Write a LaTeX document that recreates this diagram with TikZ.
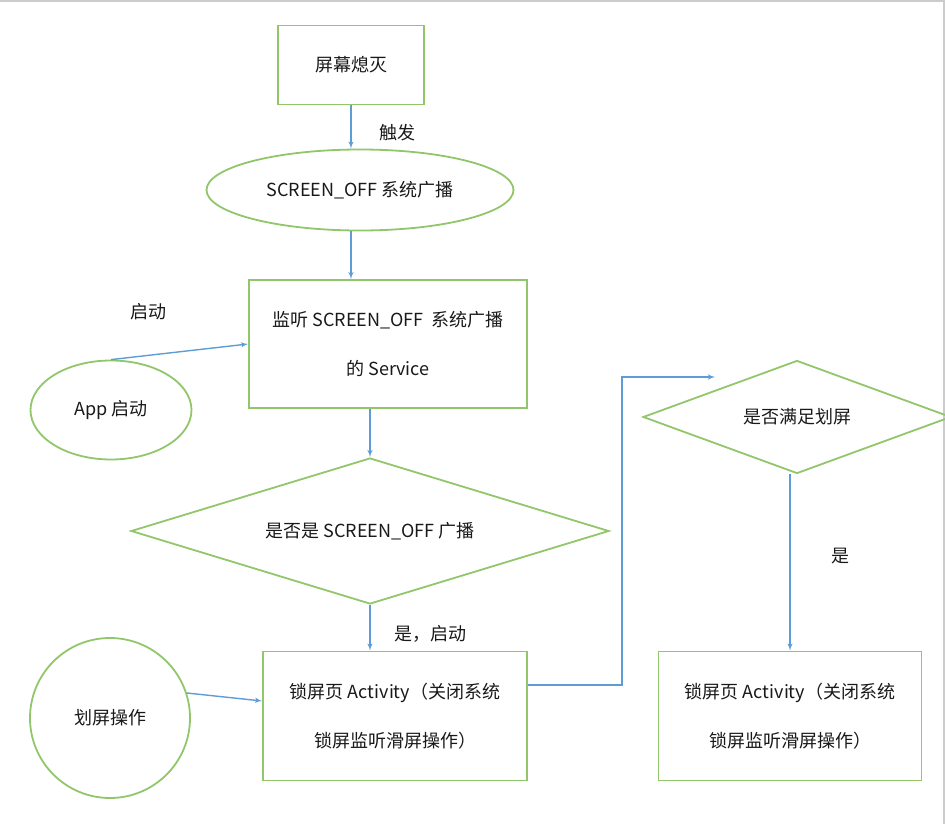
\documentclass[tikz,border=0pt]{standalone}
\usepackage{fontspec}
\setmainfont{Noto Sans CJK SC}
\usetikzlibrary{arrows,shapes}
\definecolor{grn}{RGB}{145,198,106}
\definecolor{blu}{RGB}{94,156,214}
\tikzstyle{bx} = [rectangle, draw=grn, line width=1.8pt, align=center,
    font=\fontsize{18}{49}\selectfont]
\tikzstyle{ov} = [ellipse, draw=grn, line width=1.8pt, inner sep=0pt]
\tikzstyle{dm} = [diamond, draw=grn, line width=1.8pt, inner sep=0pt]

\begin{document}
\begin{tikzpicture}[x=1pt,y=-1pt,->,>=latex',blu,line width=1.4pt,
                    every node/.style={text=black!90,font=\fontsize{18}{20}\selectfont}]

  \clip (0,0) rectangle (945,824);
  \draw[-,gray!40,line width=4pt] (0,0) -- (945,0) -- (945,824);

  \node[bx,minimum width=146,minimum height=79]   (off)   at (351,65)  {屏幕熄灭};
  \node[ov,minimum width=307,minimum height=81]   (bc)    at (360,190) {SCREEN\_OFF 系统广播};
  \node[bx,minimum width=278,minimum height=128]  (srv)   at (388,344) {监听 SCREEN\_OFF\ \ 系统广播\\的 Service};
  \node[ov,minimum width=161,minimum height=99]   (app)   at (111,410) {App 启动};
  \node[dm,aspect=3.3,minimum width=478,minimum height=146] (q1) at (370,531) {是否是 SCREEN\_OFF 广播};
  \node[ov,minimum size=160]                      (sw)    at (110,718) {划屏操作};
  \node[bx,minimum width=264,minimum height=129]  (lock)  at (395,716) {锁屏页 Activity（关闭系统\\锁屏监听滑屏操作）};
  \node[dm,aspect=2.7,minimum width=308,minimum height=113] (q2) at (797,417) {是否满足划屏};
  \node[bx,minimum width=263,minimum height=129]  (lock2) at (790,716) {锁屏页 Activity（关闭系统\\锁屏监听滑屏操作）};

  \node (trig) at (397,133) {触发};
  \node (go)   at (148,312) {启动};
  \node (yes1) at (430,634) {是，启动};
  \node (yes2) at (840,556) {是};

  \coordinate (turn) at (622,377);
  \coordinate (tip)  at (715,377);

  \path (off.south) edge (off.south |- bc.north)
  (bc.south -| off.south) edge (off.south |- srv.north)
  (app.north) edge (srv.west)
  (srv.south -| q1.north) edge (q1.north)
  (q1.south) edge (q1.south |- lock.north)
  (sw.18) edge ([yshift=15pt]lock.west)
  (lock2.north |- q2.south) edge (lock2.north);
  \draw ([yshift=31pt]lock.east) -| (turn) -- (tip);
\end{tikzpicture}
\end{document}
